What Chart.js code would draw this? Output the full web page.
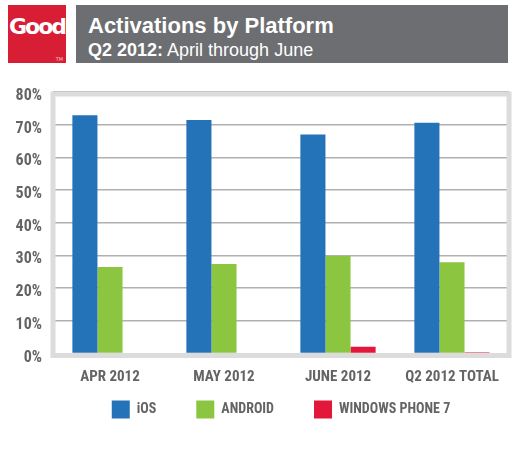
<!DOCTYPE html>
<html>
<head>
<meta charset="utf-8">
<script src="https://cdn.jsdelivr.net/npm/chart.js@4.4.1/dist/chart.umd.min.js"></script>
<style>
  body { margin: 0; background: #fff; }
  #wrap { position: relative; width: 520px; height: 454px; overflow: hidden; background: #fff; }
  #chart { position: absolute; left: 0; top: 0; }
  .logo { position: absolute; left: 8px; top: 5px; width: 58px; height: 58px; background: #d81e34; }
  .logo span { position: absolute; left: 0; top: 9px; width: 58px; text-align: center; color: #fff;
    font: bold 22px "DejaVu Sans", sans-serif; letter-spacing: -2px; }
  .logo i { position: absolute; right: 3px; bottom: 1px; color: #f3c0c6; font: 5px "DejaVu Sans", sans-serif; font-style: normal; }
  .banner { position: absolute; left: 76px; top: 5px; width: 432px; height: 58px; background: #6d6e71; color: #fff; }
  .banner .t1 { position: absolute; left: 12px; top: 8px; font: bold 22px "Liberation Sans", Arial, sans-serif; white-space: nowrap; }
  .banner .t2 { position: absolute; left: 12px; top: 35px; font: 18px "Liberation Sans", Arial, sans-serif; white-space: nowrap; }
</style>
</head>
<body>
<div id="wrap">
  <canvas id="chart" width="520" height="454"></canvas>
  <div class="logo"><span>Good</span><i>TM</i></div>
  <div class="banner">
    <div class="t1">Activations by Platform</div>
    <div class="t2"><b>Q2 2012:</b> April through June</div>
  </div>
</div>
<script>
  const categories = ['APR 2012', 'MAY 2012', 'JUNE 2012', 'Q2 2012 TOTAL'];
  const iosValues = [72.9, 71.4, 67.0, 70.6];
  const androidValues = [26.5, 27.4, 29.8, 27.9];
  const wp7Values = [0, 0, 2.1, 0.4];
  const yMin = 0;
  const yMax = 80;
  const yStep = 10;

  // Roboto squeezed to its condensed width, close to the original's narrow type
  const labelFont = 'Roboto, sans-serif';
  const labelWeight = 'bold condensed';
  const grey = '#646464';

  // light grey frame round the plot area
  const framePlugin = {
    id: 'frame',
    beforeDatasetsDraw(chart) {
      const a = chart.chartArea;
      const ctx = chart.ctx;
      ctx.save();
      ctx.strokeStyle = '#dcdcdc';
      ctx.lineWidth = 5;
      ctx.strokeRect(a.left, a.top + 2, a.right - a.left, a.bottom - a.top);
      ctx.restore();
    }
  };

  // wide item padding also pushes the legend row down, so lift it back up
  const legendLift = {
    id: 'legendLift',
    afterLayout(chart) {
      const lg = chart.legend;
      lg.top -= 26;
      lg.bottom -= 26;
    }
  };

  new Chart(document.getElementById('chart'), {
    type: 'bar',
    data: {
      labels: categories,
      datasets: [
        { label: 'iOS', data: iosValues, backgroundColor: '#2473b9' },
        { label: 'ANDROID', data: androidValues, backgroundColor: '#8cc540' },
        { label: 'WINDOWS PHONE 7', data: wp7Values, backgroundColor: '#e3173a' }
      ]
    },
    options: {
      responsive: false,
      animation: false,
      datasets: {
        bar: { barPercentage: 1, categoryPercentage: 0.66 }
      },
      layout: { padding: { top: 92, left: 8, right: 11, bottom: 0 } },
      plugins: {
        tooltip: { enabled: false },
        legend: {
          position: 'bottom',
          fullSize: false,
          maxHeight: 67.5,
          labels: {
            boxWidth: 18,
            boxHeight: 18,
            padding: 40,
            color: grey,
            font: { family: labelFont, size: 14, weight: labelWeight }
          }
        }
      },
      scales: {
        x: {
          grid: { display: false },
          border: { display: false },
          ticks: {
            color: grey,
            padding: 7,
            font: { family: labelFont, size: 15, weight: labelWeight }
          },
          afterFit(scale) { scale.height = 33; }
        },
        y: {
          min: yMin,
          max: yMax,
          grid: { color: '#b0b0b0', lineWidth: 1.5, drawTicks: false },
          border: { display: false },
          ticks: {
            stepSize: yStep,
            color: grey,
            padding: 11,
            labelOffset: 4,
            font: { family: labelFont, size: 16, weight: labelWeight },
            callback: (v) => v + '%'
          },
          afterFit(scale) { scale.width = 45; }
        }
      }
    },
    plugins: [framePlugin, legendLift]
  });
</script>
</body>
</html>
